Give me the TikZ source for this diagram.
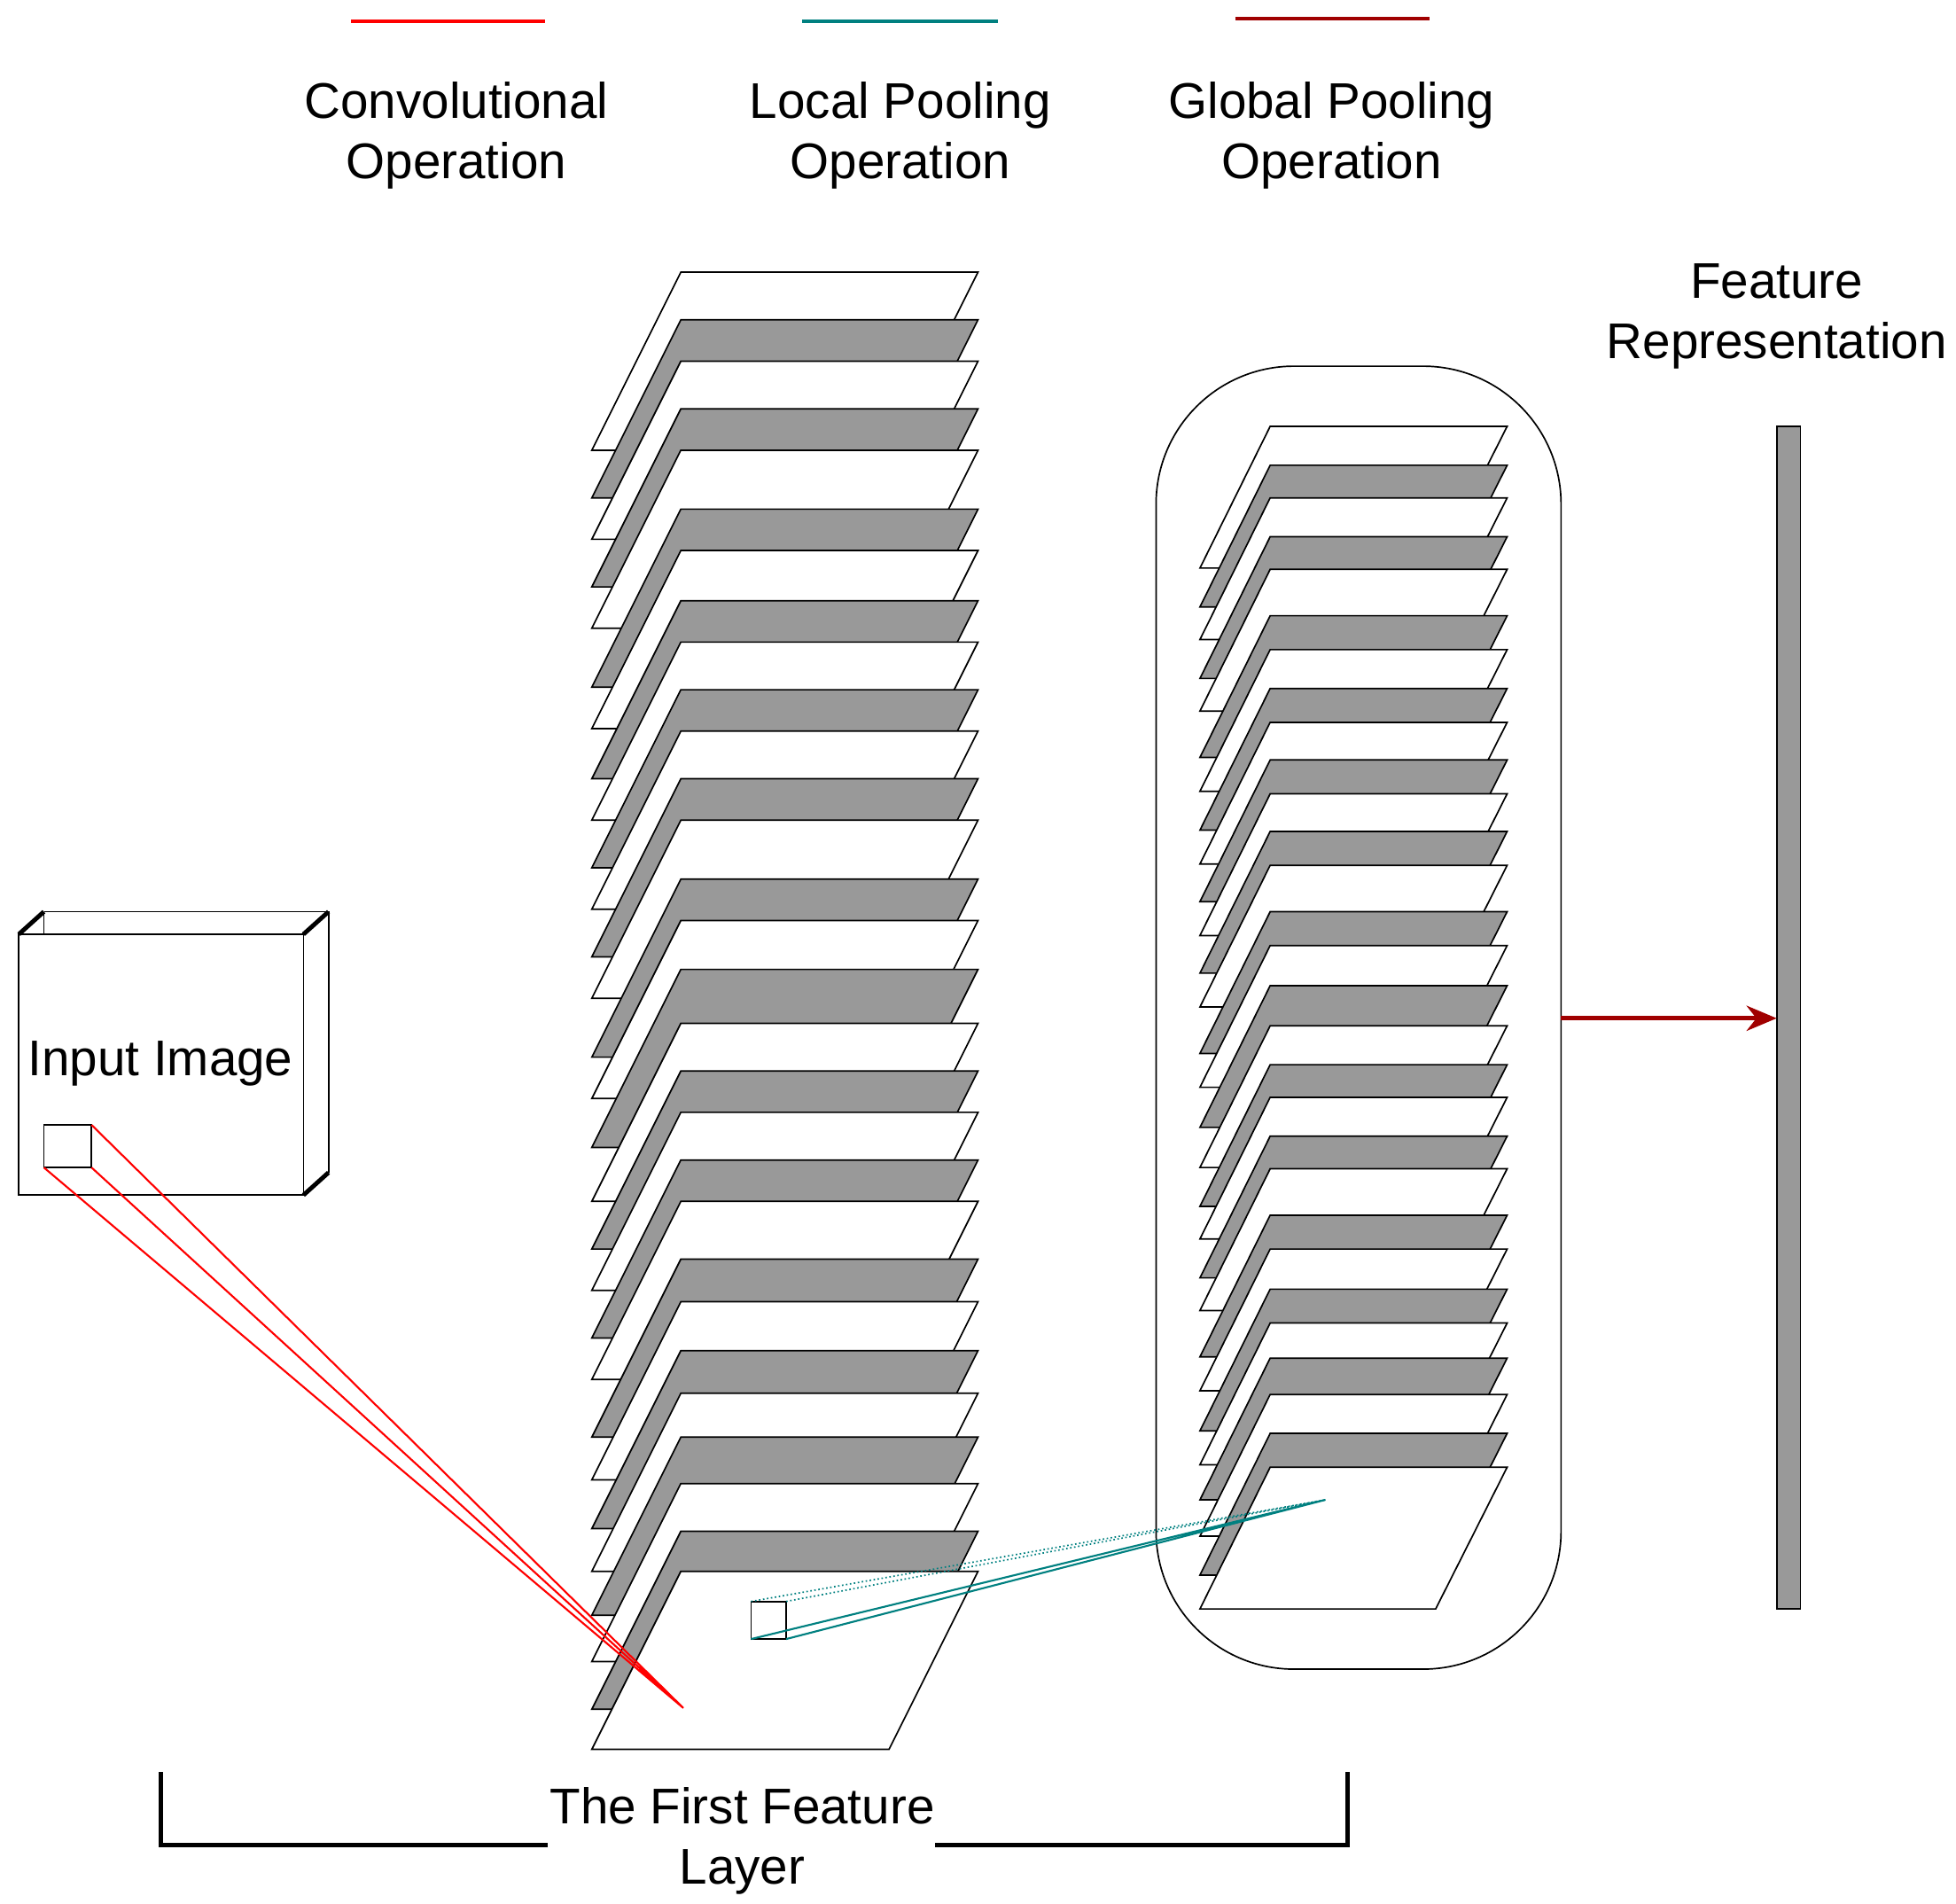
\documentclass[tikz,border=0pt]{standalone}
\usepackage{fontspec}
\setmainfont{Liberation Sans}
\usetikzlibrary{arrows.meta}
\definecolor{teal2}{RGB}{0,128,128}
\definecolor{dred}{RGB}{160,0,0}
\definecolor{sgray}{RGB}{153,153,153}
\begin{document}
\begin{tikzpicture}[x=1pt,y=-1pt,
  lbl/.style={align=center,font=\fontsize{40}{48}\selectfont},
  sheet/.style={draw=black,line width=1.2pt,line join=miter}]
\useasboundingbox (0,0) rectangle (1560,1518);
% legend
\draw[red,line width=3pt] (280,17) -- (435,17);
\draw[teal2,line width=3pt] (640,17) -- (796,17);
\draw[dred,line width=3pt] (985,15) -- (1140,15);
\node[lbl] (conv) at (364,108) {Convolutional\\Operation};
\node[lbl] (lp) at (718,108) {Local Pooling\\Operation};
\node[lbl] (gp) at (1062,108) {Global Pooling\\Operation};
\node[lbl] (fr) at (1417,252) {Feature\\Representation};
% left stack
\foreach \t/\c in {217/white,255/sgray,288/white,326/sgray,359/white,406/sgray,439/white,479/sgray,512/white,550/sgray,583/white,621/sgray,654/white,701/sgray,734/white,773/sgray,816/white,854/sgray,887/white,925/sgray,958/white,1004/sgray,1038/white,1077/sgray,1111/white,1146/sgray,1183/white,1221/sgray,1253/white}
  \filldraw[sheet,fill=\c] (543,\t) -- (780,\t) -- (709,\t+142) -- (472,\t+142) -- cycle;
% global pooling container
\draw[line width=1.2pt,rounded corners=110pt] (922,292) rectangle (1245,1331);
\foreach \t/\c in {340/white,371/sgray,397/white,428/sgray,454/white,491/sgray,518/white,549/sgray,576/white,606/sgray,633/white,663/sgray,690/white,727/sgray,754/white,786/sgray,818/white,849/sgray,875/white,906/sgray,932/white,969/sgray,996/white,1028/sgray,1055/white,1083/sgray,1112/white,1143/sgray,1170/white}
  \filldraw[sheet,fill=\c] (1013,\t) -- (1202,\t) -- (1145,\t+113) -- (957,\t+113) -- cycle;
% feature bar
\filldraw[sheet,fill=sgray] (1417,340) rectangle (1436,1283);
\coordinate (as) at (1245,812);
\coordinate (ae) at (1417,812);
\draw[dred,line width=3.5pt,-{Stealth[length=24pt,width=20pt]}] (as) -- (ae);
% input image
\draw[line width=1.2pt] (35,727) -- (262,727) -- (262,935);
\draw[line width=1.2pt] (35,727) -- (35,745);
\filldraw[line width=1.2pt,fill=white] (15,745) rectangle (242,953);
\draw[line width=3.5pt] (15,745) -- (35,727) (242,745) -- (262,727) (242,953) -- (262,935);
\node[lbl] (inp) at (128,848) {Input Image};
\draw[line width=1.2pt] (35,897) rectangle (73,931);
\coordinate (cp) at (545,1362);
\draw[red,line width=1.5pt] (73,897) -- (cp) (73,931) -- (cp) (35,931) -- (cp);
% local pooling
\draw[line width=1.2pt] (599,1277) rectangle (627,1307);
\coordinate (gpp) at (1057,1196);
\draw[teal2,line width=1.2pt,dotted] (599,1277) -- (gpp) (627,1277) -- (gpp);
\draw[teal2,line width=1.5pt] (599,1307) -- (gpp) (627,1307) -- (gpp);
% bracket
\draw[line width=3.5pt] (128,1413) -- (128,1471) -- (437,1471);
\draw[line width=3.5pt] (746,1471) -- (1075,1471) -- (1075,1413);
\node[lbl] (ffl) at (592,1468) {The First Feature\\Layer};
\end{tikzpicture}
\end{document}
